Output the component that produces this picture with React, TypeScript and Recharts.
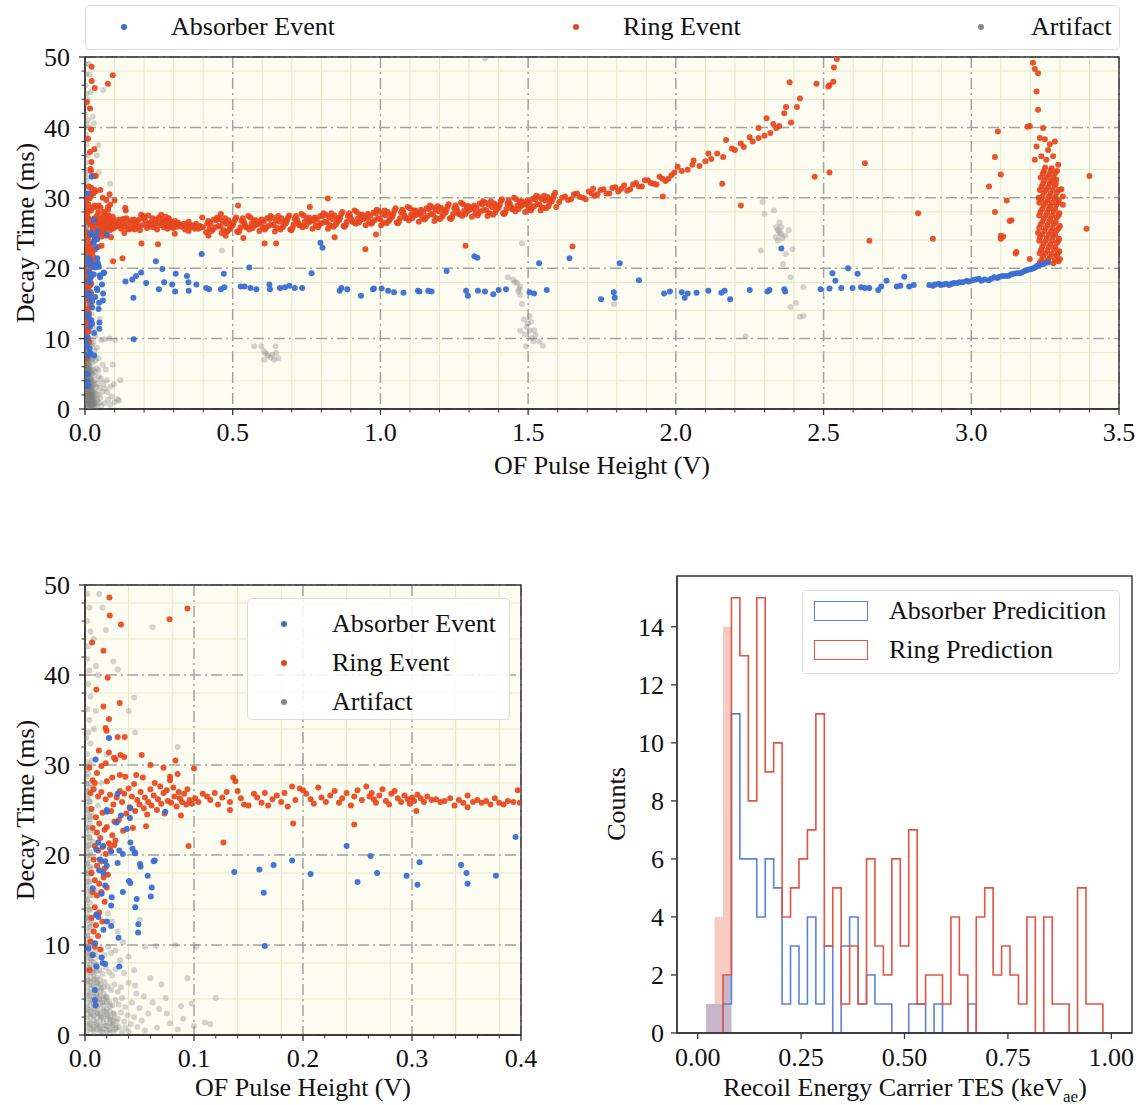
import React from 'react';
import {
  ScatterChart, Scatter, XAxis, YAxis, CartesianGrid, ReferenceArea, ReferenceLine, Legend, Label,
  ComposedChart, Line, Area,
} from 'recharts';

const SERIF = "'Liberation Serif', 'Times New Roman', Times, serif";
const BLUE = '#3c6ed2';
const RED = '#e6461e';
const GRAY = '#7c7c7c';
const BG = '#fcfcf0';
const MINOR = '#e4e7c8';
const MAJOR = '#a3a3a3';
const INK = '#111';
const HIST_BLUE = '#5a82dc';
const HIST_RED = '#e15541';

type Pt = [number, number];

// ---- scatter data: OF pulse height (V), decay time (ms) ----
const absorberLow: Pt[] = [
  [0.0097, 30.6], [0.022, 33.0], [0.02, 24.8], [0.0299, 26.8], [0.0737, 24.8], [0.0412, 24.1], [0.0383, 22.9],
  [0.033, 24.4], [0.029, 23.6], [0.0416, 21.4], [0.0435, 20.7], [0.0455, 20.3], [0.0315, 20.5], [0.0347, 20.1],
  [0.0136, 19.5], [0.0185, 19.3], [0.02, 18.8], [0.0104, 20.6], [0.024, 20.4], [0.0299, 19.1], [0.051, 18.7],
  [0.063, 19.3], [0.0575, 17.7], [0.0416, 16.9], [0.0403, 17.1], [0.013, 18.3], [0.0169, 18.0], [0.0185, 16.6],
  [0.0071, 16.3], [0.0153, 15.7], [0.0347, 15.9], [0.0604, 15.4], [0.0461, 14.2], [0.024, 14.4], [0.0104, 13.4],
  [0.0123, 13.1], [0.0201, 12.6], [0.024, 12.1], [0.0169, 11.7], [0.0308, 10.8], [0.0487, 11.4], [0.0071, 8.9],
  [0.0104, 7.6], [0.0162, 8.0], [0.0185, 7.9], [0.0315, 7.6], [0.0091, 5.0], [0.0097, 3.3], [0.0032, 9.6],
  [0.0199, 25.0], [0.0415, 25.2], [0.0122, 21.4], [0.0168, 21.0], [0.046, 20.2], [0.064, 19.4], [0.0505, 19.0],
  [0.0612, 16.4], [0.0245, 15.3], [0.0474, 15.1], [0.0107, 13.3], [0.0489, 12.3], [0.0153, 8.6], [0.0092, 10.2],
  [0.0092, 3.9],
  [0.137, 18.1], [0.16, 18.4], [0.164, 15.8], [0.173, 18.9], [0.19, 19.4], [0.207, 17.9], [0.165, 9.9],
  [0.24, 21.0], [0.25, 17.0], [0.262, 19.9], [0.268, 18.0], [0.295, 17.7], [0.305, 16.7], [0.307, 19.2],
  [0.345, 18.9], [0.35, 18.0], [0.351, 16.8], [0.377, 17.7], [0.395, 22.0],
];

const absorberHigh: Pt[] = [
  [0.41, 17.2], [0.42, 17.0], [0.47, 19.2], [0.472, 17.3], [0.46, 17.0], [0.527, 17.4], [0.54, 17.4], [0.556, 20.1],
  [0.56, 17.2], [0.58, 17.0], [0.624, 17.7], [0.626, 17.0], [0.66, 17.2], [0.677, 17.3], [0.692, 17.5], [0.71, 17.2],
  [0.735, 17.2], [0.767, 19.3], [0.797, 23.6], [0.804, 22.9], [0.862, 16.8], [0.868, 17.2], [0.888, 17.0],
  [0.934, 16.1], [0.975, 17.0], [0.978, 17.1], [1.004, 17.1], [1.026, 16.8], [1.046, 16.6], [1.078, 16.5],
  [1.127, 16.8], [1.132, 16.7], [1.162, 16.8], [1.173, 16.7], [1.224, 19.6], [1.29, 16.8], [1.296, 16.1],
  [1.318, 21.7], [1.328, 21.5], [1.33, 16.8], [1.354, 16.7], [1.382, 16.3], [1.4, 16.9], [1.425, 17.0],
  [1.505, 16.6], [1.52, 16.4], [1.537, 20.7], [1.563, 16.9], [1.64, 21.4], [1.81, 20.7], [1.747, 15.6],
  [1.79, 16.6], [1.793, 15.8], [1.875, 18.3], [1.96, 16.4], [1.98, 16.7], [2.02, 16.6], [2.03, 15.8], [2.04, 16.4],
  [2.07, 16.5], [2.11, 16.8], [2.154, 16.5], [2.165, 16.8], [2.184, 15.6], [2.25, 16.9], [2.31, 16.7], [2.317, 16.9],
  [2.357, 22.8], [2.367, 17.0], [2.37, 16.7], [2.49, 17.0], [2.52, 17.1], [2.53, 19.3], [2.54, 18.2], [2.56, 17.2],
  [2.583, 20.0], [2.598, 17.2], [2.615, 19.2], [2.627, 17.3], [2.64, 17.2], [2.655, 17.2], [2.685, 16.9],
  [2.695, 17.4], [2.713, 18.2], [2.748, 17.4], [2.76, 17.5], [2.773, 18.8], [2.79, 17.4], [2.805, 17.6],
  [2.858, 17.6], [2.877, 17.7], [2.896, 17.6], [2.915, 17.8], [2.934, 17.8], [2.952, 17.9], [2.971, 18.0],
  [2.984, 18.2], [3.015, 18.4], [3.034, 18.2], [3.059, 18.3], [3.078, 18.7], [3.096, 18.8], [3.115, 18.9],
  [3.134, 19.1], [3.153, 19.3], [3.172, 19.4], [3.187, 19.7], [3.203, 19.9], [3.216, 20.1], [3.228, 20.4],
  [2.87, 17.5], [2.89, 17.8], [2.905, 17.7], [2.925, 17.6], [2.94, 17.9], [2.96, 18.0], [2.99, 18.1], [3.005, 18.3],
  [3.025, 18.5], [3.045, 18.4], [3.068, 18.5], [3.088, 18.6], [3.105, 18.9], [3.125, 18.9], [3.143, 19.2],
  [3.163, 19.3], [3.18, 19.6], [3.195, 19.8], [3.21, 20.0], [3.222, 20.3], [3.235, 20.5], [3.245, 20.6], [3.26, 20.8],
];

const ringLow: Pt[] = [
  // band 0.1 - 0.4 V
  [0.101, 26.3], [0.104, 25.9], [0.108, 26.8], [0.112, 26.5], [0.115, 26.1], [0.119, 26.9], [0.122, 25.6],
  [0.126, 26.4], [0.13, 27.0], [0.133, 25.9], [0.136, 28.6], [0.138, 28.2], [0.14, 27.1], [0.143, 26.3],
  [0.146, 25.6], [0.15, 25.5], [0.155, 26.8], [0.158, 26.4], [0.162, 25.8], [0.165, 26.9], [0.168, 25.5],
  [0.172, 26.2], [0.176, 26.6], [0.18, 25.9], [0.183, 26.9], [0.186, 25.4], [0.19, 27.6], [0.193, 26.1],
  [0.197, 27.4], [0.2, 27.2], [0.203, 26.8], [0.207, 26.2], [0.21, 25.7], [0.214, 27.5], [0.217, 26.4],
  [0.221, 25.9], [0.225, 26.6], [0.229, 27.1], [0.233, 25.8], [0.236, 26.3], [0.24, 26.9], [0.244, 25.5],
  [0.247, 26.5], [0.25, 27.2], [0.254, 26.1], [0.258, 27.6], [0.261, 26.5], [0.263, 26.9], [0.265, 26.2],
  [0.267, 25.8], [0.27, 26.6], [0.273, 27.3], [0.276, 26.0], [0.279, 25.6], [0.281, 26.8], [0.284, 27.1],
  [0.287, 26.3], [0.29, 25.9], [0.293, 26.6], [0.296, 26.2], [0.298, 25.7], [0.3, 26.4], [0.302, 26.0],
  [0.305, 26.7], [0.308, 26.3], [0.311, 25.9], [0.314, 26.5], [0.318, 26.1], [0.322, 26.2], [0.326, 25.9],
  [0.33, 26.0], [0.335, 26.3], [0.339, 25.5], [0.343, 26.1], [0.347, 25.8], [0.351, 26.6], [0.351, 25.3],
  [0.356, 25.9], [0.36, 26.1], [0.364, 25.8], [0.368, 26.0], [0.372, 25.6], [0.376, 26.3], [0.38, 25.8],
  [0.384, 25.6], [0.388, 26.0], [0.393, 25.9], [0.397, 27.2], [0.399, 25.8],
  [0.191, 23.5], [0.247, 23.4], [0.127, 21.4], [0.095, 21.0], [0.088, 24.4], [0.304, 24.9], [0.1, 29.6], [0.133, 25.0],
  // band 0.03 - 0.1 V
  [0.032, 27.1], [0.034, 25.9], [0.036, 26.8], [0.038, 24.6], [0.04, 27.4], [0.041, 25.3], [0.043, 26.5],
  [0.045, 27.9], [0.046, 24.9], [0.048, 26.1], [0.05, 25.6], [0.051, 27.0], [0.053, 28.6], [0.054, 25.2],
  [0.055, 26.4], [0.057, 24.5], [0.058, 25.9], [0.06, 27.3], [0.061, 25.5], [0.063, 26.6], [0.064, 28.0],
  [0.066, 25.0], [0.067, 26.2], [0.069, 27.6], [0.07, 25.7], [0.072, 26.9], [0.073, 24.6], [0.075, 27.2],
  [0.076, 26.0], [0.078, 28.3], [0.079, 25.8], [0.081, 27.5], [0.082, 26.5], [0.084, 25.4], [0.086, 27.0],
  [0.087, 26.3], [0.089, 25.9], [0.091, 26.8], [0.093, 25.6], [0.094, 27.3], [0.096, 26.1], [0.098, 25.7],
  [0.06, 30.0], [0.072, 29.7], [0.083, 30.5], [0.052, 31.1], [0.078, 28.7], [0.085, 29.0], [0.047, 28.9],
  [0.056, 23.2], [0.044, 23.0], [0.035, 22.7], [0.031, 23.9], [0.036, 30.9], [0.03, 33.1],
  // strip near zero
  [0.005, 26.9], [0.008, 27.3], [0.012, 26.5], [0.015, 27.0], [0.019, 26.2], [0.023, 26.7], [0.026, 25.6],
  [0.029, 26.4], [0.006, 25.1], [0.01, 24.2], [0.013, 23.5], [0.016, 24.7], [0.02, 23.1], [0.024, 24.9],
  [0.027, 23.7], [0.007, 23.0], [0.011, 22.5], [0.014, 21.9], [0.018, 22.8], [0.022, 21.3], [0.025, 22.2],
  [0.028, 21.6], [0.009, 21.0], [0.012, 20.5], [0.016, 20.9], [0.019, 20.1], [0.023, 20.7], [0.027, 21.1],
  [0.008, 19.5], [0.011, 18.8], [0.015, 19.3], [0.018, 18.5], [0.021, 17.8], [0.006, 18.0], [0.009, 17.2],
  [0.013, 16.8], [0.017, 17.5], [0.02, 16.4], [0.007, 15.9], [0.011, 15.5], [0.015, 15.9], [0.018, 14.8],
  [0.009, 14.2], [0.013, 13.6], [0.006, 13.0], [0.01, 12.2], [0.016, 12.6], [0.008, 11.5], [0.012, 11.0],
  [0.005, 10.4], [0.009, 9.8], [0.014, 9.5], [0.007, 8.9], [0.004, 7.2], [0.007, 28.3], [0.011, 29.1],
  [0.004, 29.7], [0.015, 29.9], [0.009, 28.0], [0.02, 28.2], [0.025, 28.6], [0.032, 28.9], [0.037, 28.7],
  [0.019, 30.2], [0.028, 30.6],
  // upper scatter
  [0.0224, 48.6], [0.0227, 46.6], [0.033, 45.6], [0.0776, 46.2], [0.094, 47.4], [0.0065, 43.6], [0.0169, 42.7],
  [0.0208, 39.7], [0.0104, 38.4], [0.0318, 36.9], [0.0169, 36.5], [0.022, 35.1], [0.0188, 34.1], [0.0198, 33.8],
  [0.0364, 33.1], [0.0127, 31.6], [0.022, 31.4], [0.0325, 31.1], [0.0266, 30.8],
];

const ringBand: Pt[] = [
  [0.41, 25.1], [0.425, 26.4], [0.44, 25.8], [0.455, 27.0], [0.47, 25.4], [0.485, 26.8], [0.5, 26.1], [0.515, 25.2],
  [0.53, 26.7], [0.545, 25.8], [0.56, 27.2], [0.575, 26.1], [0.59, 25.3], [0.605, 26.6], [0.62, 26.0], [0.635, 27.2],
  [0.65, 25.7], [0.665, 27.1], [0.68, 26.4], [0.695, 25.5], [0.71, 27.0], [0.725, 26.1], [0.74, 27.5], [0.755, 26.5],
  [0.77, 25.6], [0.785, 26.9], [0.8, 26.4], [0.815, 27.6], [0.83, 26.1], [0.845, 27.5], [0.86, 26.8], [0.875, 26.0],
  [0.89, 27.4], [0.905, 26.6], [0.92, 28.0], [0.935, 26.9], [0.95, 26.1], [0.965, 27.4], [0.98, 26.8], [0.995, 28.1],
  [1.01, 26.5], [1.025, 28.0], [1.04, 27.3], [1.055, 26.5], [1.07, 27.9], [1.085, 27.1], [1.1, 28.5], [1.115, 27.5],
  [1.13, 26.6], [1.145, 28.0], [1.16, 27.4], [1.175, 28.7], [1.19, 27.1], [1.205, 28.6], [1.22, 27.9], [1.235, 27.1],
  [1.25, 28.5], [1.265, 27.7], [1.28, 29.1], [1.295, 28.1], [1.31, 27.3], [1.325, 28.6], [1.34, 28.1], [1.355, 29.3],
  [1.37, 27.8], [1.385, 29.2], [1.4, 28.6], [1.415, 27.8], [1.43, 29.2], [1.445, 28.4], [1.46, 29.8], [1.475, 28.8],
  [1.49, 28.0], [1.505, 29.3], [1.52, 28.8], [1.535, 30.1], [1.55, 28.6], [1.565, 30.1], [1.58, 29.5], [1.595, 28.7],
  [1.615, 30.0], [1.635, 29.7], [1.655, 30.5], [1.675, 30.1], [1.695, 29.8], [1.715, 30.6], [1.735, 30.5],
  [1.755, 31.2], [1.775, 30.6], [1.795, 31.5], [1.815, 31.3], [1.835, 31.0], [1.855, 31.9], [1.875, 31.6],
  [1.895, 32.5], [1.915, 32.1], [1.935, 31.9], [1.955, 32.7], [1.975, 32.7], [1.995, 33.6],
  [0.4175, 26.7], [0.4325, 25.5], [0.4475, 27.2], [0.4625, 25.0], [0.4775, 26.3], [0.4925, 25.8], [0.5075, 26.9],
  [0.5225, 25.3], [0.5375, 26.6], [0.5525, 27.4], [0.5675, 25.7], [0.5825, 26.2], [0.5975, 26.9], [0.6125, 25.7],
  [0.6275, 27.4], [0.6425, 25.2], [0.6575, 26.6], [0.6725, 26.1], [0.6875, 27.2], [0.7025, 25.7], [0.7175, 26.9],
  [0.7325, 27.7], [0.7475, 26.0], [0.7625, 26.6], [0.7775, 27.2], [0.7925, 26.1], [0.8075, 27.8], [0.8225, 25.6],
  [0.8375, 27.0], [0.8525, 26.5], [0.8675, 27.7], [0.8825, 26.1], [0.8975, 27.4], [0.9125, 28.2], [0.9275, 26.5],
  [0.9425, 27.0], [0.9575, 27.7], [0.9725, 26.5], [0.9875, 28.3], [1.0025, 26.1], [1.0175, 27.5], [1.0325, 27.0],
  [1.0475, 28.2], [1.0625, 26.6], [1.0775, 27.9], [1.0925, 28.7], [1.1075, 27.1], [1.1225, 27.6], [1.1375, 28.3],
  [1.1525, 27.1], [1.1675, 28.9], [1.1825, 26.7], [1.1975, 28.1], [1.2125, 27.6], [1.2275, 28.8], [1.2425, 27.2],
  [1.2575, 28.5], [1.2725, 29.3], [1.2875, 27.7], [1.3025, 28.3], [1.3175, 28.9], [1.3325, 27.8], [1.3475, 29.5],
  [1.3625, 27.4], [1.3775, 28.7], [1.3925, 28.3], [1.4075, 29.5], [1.4225, 27.9], [1.4375, 29.2], [1.4525, 30.0],
  [1.4675, 28.4], [1.4825, 29.0], [1.4975, 29.6], [1.5125, 28.5], [1.5275, 30.3], [1.5425, 28.2], [1.5575, 29.6],
  [1.5725, 29.2], [1.5875, 30.4],
  [0.4138, 26.3], [0.4288, 25.3], [0.4438, 26.8], [0.4588, 25.9], [0.4738, 27.1], [0.4888, 25.5], [0.5038, 26.5],
  [0.5188, 25.1], [0.5338, 27.1], [0.5488, 25.8], [0.5638, 26.3], [0.5788, 26.8], [0.5938, 26.5], [0.6088, 25.5],
  [0.6238, 27.0], [0.6388, 26.1], [0.6538, 27.4], [0.6688, 25.8], [0.6838, 26.8], [0.6988, 25.4], [0.7138, 27.4],
  [0.7288, 26.1], [0.7438, 26.6], [0.7588, 27.2], [0.7738, 26.8], [0.7888, 25.8], [0.8038, 27.4], [0.8188, 26.5],
  [0.8338, 27.8], [0.8488, 26.2], [0.8638, 27.2], [0.8788, 25.9], [0.8938, 27.8], [0.9088, 26.6], [0.9238, 27.1],
  [0.9388, 27.6], [0.9538, 27.3], [0.9688, 26.3], [0.9838, 27.8], [0.9988, 27.0], [1.0138, 28.2], [1.0288, 26.7],
  [1.0438, 27.7], [1.0588, 26.4], [1.0738, 28.3], [1.0888, 27.1], [1.1038, 27.6], [1.1188, 28.2], [1.1338, 27.8],
  [1.1488, 26.9], [1.1638, 28.4], [1.1788, 27.6], [1.1938, 28.8], [1.2088, 27.3], [1.2238, 28.3], [1.2388, 27.0],
  [1.2538, 28.9], [1.2688, 27.7], [1.2838, 28.2], [1.2988, 28.8], [1.3138, 28.5], [1.3288, 27.5], [1.3438, 29.1],
  [1.3588, 28.2], [1.3738, 29.5], [1.3888, 27.9], [1.4038, 29.0], [1.4188, 27.7], [1.4338, 29.6], [1.4488, 28.4],
  [1.4638, 28.9], [1.4788, 29.5], [1.4938, 29.2], [1.5088, 28.2], [1.5238, 29.8], [1.5388, 29.0], [1.5538, 30.3],
  [1.5688, 28.8], [1.5838, 29.9],
  [0.4213, 25.6], [0.4363, 26.9], [0.4513, 26.0], [0.4663, 26.6], [0.4813, 25.2], [0.4963, 26.4], [0.5113, 27.2],
  [0.5263, 25.8], [0.5413, 26.2], [0.5563, 25.5], [0.5713, 26.8], [0.5863, 26.4], [0.6013, 25.8], [0.6163, 27.1],
  [0.6313, 26.2], [0.6463, 26.8], [0.6613, 25.5], [0.6763, 26.7], [0.6913, 27.5], [0.7063, 26.2], [0.7213, 26.5],
  [0.7363, 25.8], [0.7513, 27.1], [0.7663, 26.8], [0.7813, 26.1], [0.7963, 27.4], [0.8113, 26.6], [0.8263, 27.2],
  [0.8413, 25.9], [0.8563, 27.1], [0.8713, 28.0], [0.8863, 26.6], [0.9013, 27.0], [0.9163, 26.3], [0.9313, 27.6],
  [0.9463, 27.2], [0.9613, 26.6], [0.9763, 27.9], [0.9913, 27.1], [1.0063, 27.7], [1.0213, 26.4], [1.0363, 27.6],
  [1.0513, 28.5], [1.0663, 27.1], [1.0813, 27.5], [1.0963, 26.8], [1.1113, 28.2], [1.1263, 27.8], [1.1413, 27.2],
  [1.1563, 28.5], [1.1713, 27.7], [1.1863, 28.3], [1.2013, 27.0], [1.2163, 28.2], [1.2313, 29.1], [1.2463, 27.7],
  [1.2613, 28.1], [1.2763, 27.4], [1.2913, 28.8], [1.3063, 28.5], [1.3213, 27.8], [1.3363, 29.2], [1.3513, 28.3],
  [1.3663, 29.0], [1.3813, 27.6], [1.3963, 28.9], [1.4113, 29.8], [1.4263, 28.4], [1.4413, 28.8], [1.4563, 28.1],
  [1.4713, 29.5], [1.4863, 29.2], [1.5013, 28.5], [1.5163, 29.9], [1.5313, 29.1], [1.5463, 29.8], [1.5613, 28.5],
  [1.5763, 29.8], [1.5913, 30.7],
  [1.605, 29.4], [1.625, 30.2], [1.645, 29.8], [1.665, 30.6], [1.685, 30.0], [1.705, 30.9], [1.725, 30.3],
  [1.745, 31.1], [1.765, 30.6], [1.785, 31.4], [1.805, 30.9], [1.825, 31.8], [1.845, 31.2], [1.865, 32.1],
  [1.885, 31.6], [1.905, 32.5], [1.925, 32.0], [1.945, 33.0], [1.965, 32.4], [1.985, 33.2],
];

const ringCurve: Pt[] = [
  [2.006, 34.4], [2.02, 33.8], [2.04, 34.0], [2.056, 34.7], [2.06, 35.3], [2.08, 34.5], [2.1, 35.2], [2.11, 36.3],
  [2.12, 35.5], [2.14, 36.3], [2.16, 35.8], [2.17, 38.2], [2.19, 37.0], [2.2, 36.8], [2.22, 37.7], [2.23, 37.2],
  [2.25, 38.6], [2.26, 38.0], [2.28, 38.5], [2.28, 39.9], [2.3, 38.8], [2.307, 41.3], [2.32, 39.2], [2.33, 40.5],
  [2.34, 39.9], [2.35, 40.2], [2.367, 42.0], [2.373, 42.9], [2.385, 46.4], [2.39, 40.7], [2.41, 42.9], [2.42, 44.1],
  [2.476, 46.2], [2.516, 45.8], [2.52, 46.0], [2.533, 46.5], [2.535, 48.5], [2.545, 49.7],
];

const ringOutliers: Pt[] = [
  [0.418, 24.6], [0.46, 27.7], [0.476, 24.6], [0.536, 24.3], [0.518, 28.9], [0.608, 23.5], [0.647, 23.5],
  [0.761, 28.7], [0.822, 29.9], [0.845, 24.4], [0.949, 22.7], [0.985, 24.8], [1.288, 23.2], [1.65, 23.1],
  [1.72, 31.3], [2.157, 32.0], [2.22, 28.9], [1.956, 30.2], [2.47, 33.0], [2.52, 33.6], [2.64, 34.9],
  [2.655, 23.9], [2.82, 27.8], [2.87, 24.2], [3.09, 39.4], [3.08, 35.8], [3.1, 33.3], [3.06, 31.6], [3.12, 29.6],
  [3.08, 28.0], [3.13, 26.7], [3.1, 24.6], [3.1, 24.2], [3.15, 22.1], [3.19, 40.1], [3.31, 30.2], [3.4, 33.1],
  [3.39, 25.6], [3.136, 26.8], [3.108, 24.5], [3.153, 22.3], [3.198, 21.3],
];

const ringCluster: Pt[] = [
  [3.232, 20.8], [3.255, 20.9], [3.278, 20.7], [3.295, 21.0], [3.243, 21.7], [3.266, 21.6], [3.288, 21.8],
  [3.236, 22.6], [3.258, 22.5], [3.28, 22.7], [3.298, 22.4], [3.245, 23.5], [3.268, 23.4], [3.29, 23.6],
  [3.233, 24.4], [3.256, 24.3], [3.277, 24.5], [3.297, 24.2], [3.247, 25.3], [3.27, 25.2], [3.29, 25.4],
  [3.235, 26.2], [3.258, 26.1], [3.28, 26.3], [3.3, 26.0], [3.246, 27.1], [3.268, 27.0], [3.289, 27.2],
  [3.234, 28.0], [3.257, 27.9], [3.279, 28.1], [3.298, 27.8], [3.245, 28.9], [3.267, 28.8], [3.288, 29.0],
  [3.236, 29.8], [3.259, 29.7], [3.281, 29.9], [3.296, 29.6], [3.246, 30.7], [3.268, 30.6], [3.29, 30.8],
  [3.238, 31.6], [3.26, 31.5], [3.282, 31.7], [3.248, 32.5], [3.27, 32.4], [3.288, 32.6], [3.242, 33.4],
  [3.264, 33.3], [3.284, 33.5], [3.25, 34.3], [3.272, 34.2], [3.305, 31.2], [3.31, 29.0], [3.228, 30.0],
  [3.226, 25.0],
  [3.238, 21.2], [3.26, 21.2], [3.283, 21.2], [3.3, 21.3], [3.231, 22.1], [3.25, 22.1], [3.272, 22.0],
  [3.293, 22.1], [3.24, 23.0], [3.262, 23.0], [3.285, 23.0], [3.23, 23.9], [3.252, 23.9], [3.273, 23.9],
  [3.295, 23.9], [3.24, 24.8], [3.262, 24.8], [3.284, 24.8], [3.23, 25.7], [3.252, 25.7], [3.274, 25.7],
  [3.296, 25.7], [3.241, 26.6], [3.263, 26.6], [3.286, 26.6], [3.23, 27.5], [3.252, 27.5], [3.273, 27.5],
  [3.295, 27.5], [3.24, 28.4], [3.262, 28.4], [3.284, 28.4], [3.23, 29.3], [3.251, 29.3], [3.273, 29.3],
  [3.294, 29.3], [3.241, 30.2], [3.263, 30.2], [3.285, 30.2], [3.232, 31.1], [3.253, 31.1], [3.275, 31.1],
  [3.296, 31.1], [3.243, 32.0], [3.265, 32.0], [3.286, 32.0], [3.235, 32.9], [3.256, 32.9], [3.277, 32.9],
  [3.246, 33.8], [3.268, 33.8], [3.29, 33.8],
  [3.221, 37.3], [3.232, 38.5], [3.249, 38.3], [3.266, 37.6], [3.283, 38.0], [3.26, 36.8], [3.215, 35.4],
  [3.237, 35.9], [3.254, 35.4], [3.277, 35.9], [3.294, 34.7], [3.243, 39.9],
  [3.209, 49.2], [3.215, 48.3], [3.226, 47.7], [3.221, 45.1], [3.226, 42.5], [3.198, 40.2],
];

const artifactLow: Pt[] = [
  [0.002, 49.0], [0.004, 47.5], [0.002, 46.0], [0.005, 44.8], [0.003, 43.2], [0.002, 41.8], [0.004, 40.5],
  [0.003, 39.0], [0.005, 37.6], [0.002, 36.2], [0.004, 35.0], [0.003, 33.6], [0.005, 32.4], [0.002, 31.2],
  [0.004, 30.0], [0.003, 29.0], [0.005, 28.0], [0.002, 27.0], [0.004, 26.0], [0.003, 25.0], [0.005, 24.0],
  [0.002, 23.0], [0.004, 22.0], [0.003, 21.0], [0.005, 20.0], [0.002, 19.0], [0.004, 18.0], [0.003, 17.0],
  [0.005, 16.0], [0.002, 15.0], [0.004, 14.0], [0.003, 13.0], [0.005, 12.0], [0.002, 11.0], [0.004, 10.0],
  [0.006, 30.5], [0.007, 27.5], [0.006, 24.5], [0.007, 21.5], [0.006, 18.5], [0.007, 15.5], [0.006, 12.5],
  [0.001, 33.0], [0.001, 28.0], [0.001, 23.0], [0.001, 18.0], [0.001, 13.0], [0.008, 44.0], [0.01, 41.0],
  [0.013, 49.0], [0.016, 47.5], [0.019, 45.0], [0.01, 36.0], [0.008, 34.0], [0.012, 40.0], [0.03, 40.6],
  [0.045, 37.5], [0.04, 36.0], [0.062, 45.3], [0.046, 33.6], [0.085, 32.0], [0.026, 41.5],
  [0.003, 9.0], [0.006, 8.4], [0.009, 9.2], [0.012, 8.7], [0.015, 9.5], [0.018, 8.9], [0.021, 9.8], [0.024, 9.1],
  [0.004, 7.5], [0.007, 7.0], [0.01, 7.8], [0.013, 7.2], [0.016, 6.8], [0.019, 7.5], [0.022, 7.0], [0.025, 6.6],
  [0.028, 7.3], [0.003, 6.0], [0.006, 5.5], [0.009, 6.2], [0.012, 5.7], [0.015, 5.2], [0.018, 5.9], [0.021, 5.4],
  [0.024, 5.0], [0.027, 5.6], [0.03, 4.8], [0.033, 5.3], [0.004, 4.4], [0.007, 3.9], [0.01, 4.5], [0.013, 4.0],
  [0.016, 3.6], [0.019, 4.2], [0.022, 3.7], [0.025, 3.3], [0.028, 3.9], [0.031, 3.4], [0.034, 4.1], [0.037, 3.1],
  [0.003, 2.8], [0.006, 2.3], [0.009, 2.9], [0.012, 2.4], [0.015, 2.0], [0.018, 2.6], [0.021, 2.1], [0.024, 1.7],
  [0.027, 2.3], [0.03, 1.8], [0.033, 2.5], [0.036, 1.5], [0.039, 2.2], [0.042, 1.2], [0.045, 2.0], [0.004, 1.2],
  [0.007, 0.7], [0.01, 1.3], [0.013, 0.8], [0.016, 0.4], [0.019, 1.0], [0.022, 0.5], [0.025, 1.1], [0.028, 0.6],
  [0.031, 0.9], [0.034, 0.3], [0.037, 0.8], [0.04, 0.4], [0.048, 0.9], [0.052, 1.6], [0.055, 0.5], [0.058, 2.4],
  [0.05, 3.0], [0.043, 3.6], [0.047, 4.6], [0.04, 5.8], [0.036, 6.9], [0.032, 8.3], [0.028, 9.4], [0.03, 11.5],
  [0.025, 12.6], [0.021, 13.5], [0.035, 10.3], [0.04, 8.7], [0.055, 9.8], [0.062, 3.6], [0.066, 0.8], [0.068, 2.9],
  [0.074, 4.1], [0.078, 1.3], [0.085, 0.6], [0.088, 3.2], [0.09, 1.8], [0.098, 3.5], [0.1, 1.0], [0.11, 1.4],
  [0.115, 1.2], [0.12, 4.1], [0.07, 5.6], [0.06, 6.3], [0.045, 7.2], [0.05, 12.8], [0.065, 9.9], [0.094, 6.3],
  [0.01, 16.0], [0.014, 19.5], [0.009, 22.5], [0.012, 25.5], [0.015, 28.0], [0.02, 31.2], [0.083, 10.0],
  [0.102, 9.8], [0.075, 2.4], [0.054, 4.3], [0.046, 5.5],
];

// the dense grey mass hugging the origin
const artifactDense: Pt[] = [
  [0.002, 0.4], [0.002, 1.0], [0.002, 1.7], [0.002, 2.3], [0.002, 3.0], [0.002, 3.6], [0.002, 4.3], [0.002, 4.9],
  [0.002, 5.6], [0.002, 6.2], [0.002, 6.9], [0.002, 7.5], [0.002, 8.2], [0.002, 8.8], [0.002, 9.5],
  [0.005, 0.7], [0.005, 1.3], [0.005, 2.0], [0.005, 2.6], [0.005, 3.3], [0.005, 3.9], [0.005, 4.6], [0.005, 5.2],
  [0.005, 5.9], [0.005, 6.5], [0.005, 7.2], [0.005, 7.8], [0.005, 8.5], [0.005, 9.1],
  [0.008, 0.3], [0.008, 0.9], [0.008, 1.6], [0.008, 2.2], [0.008, 2.9], [0.008, 3.5], [0.008, 4.2], [0.008, 4.8],
  [0.008, 5.5], [0.008, 6.1], [0.008, 6.8], [0.008, 7.4], [0.008, 8.1],
  [0.011, 0.6], [0.011, 1.2], [0.011, 1.9], [0.011, 2.5], [0.011, 3.2], [0.011, 3.8], [0.011, 4.5], [0.011, 5.1],
  [0.011, 5.8], [0.011, 6.4], [0.011, 7.1], [0.011, 7.7],
  [0.014, 0.4], [0.014, 1.0], [0.014, 1.7], [0.014, 2.3], [0.014, 3.0], [0.014, 3.6], [0.014, 4.3], [0.014, 4.9],
  [0.014, 5.6], [0.014, 6.2],
  [0.017, 0.7], [0.017, 1.4], [0.017, 2.0], [0.017, 2.7], [0.017, 3.3], [0.017, 4.0], [0.017, 4.6], [0.017, 5.3],
  [0.02, 0.3], [0.02, 1.0], [0.02, 1.6], [0.02, 2.3], [0.02, 2.9], [0.02, 3.6], [0.02, 4.2],
  [0.023, 0.6], [0.023, 1.3], [0.023, 1.9], [0.023, 2.6], [0.023, 3.2], [0.026, 0.4], [0.026, 1.1], [0.026, 1.7],
  [0.026, 2.4], [0.029, 0.8], [0.029, 1.5],
  [0.0015, 10.3], [0.0015, 11.1], [0.0015, 11.9], [0.0015, 12.7], [0.0015, 13.5], [0.0015, 14.3], [0.0015, 15.1],
  [0.0015, 15.9], [0.0015, 16.7], [0.0015, 17.5], [0.0015, 18.3], [0.0015, 19.1], [0.0015, 19.9], [0.0015, 20.7],
  [0.0015, 21.5], [0.0015, 22.3], [0.0015, 23.1], [0.0015, 23.9], [0.0015, 24.7], [0.0015, 25.5], [0.0015, 26.3],
  [0.0015, 27.1], [0.0015, 27.9], [0.0015, 28.7], [0.0015, 29.5], [0.0015, 30.3],
  [0.0045, 10.7], [0.0045, 11.5], [0.0045, 12.3], [0.0045, 13.1], [0.0045, 13.9], [0.0045, 14.7], [0.0045, 15.5],
  [0.0045, 16.3], [0.0045, 17.1], [0.0045, 17.9], [0.0045, 18.7], [0.0045, 19.5], [0.0045, 20.3], [0.0045, 21.1],
  [0.0045, 21.9], [0.0045, 22.7], [0.0045, 23.5], [0.0045, 24.3], [0.0045, 25.1], [0.0045, 25.9], [0.0045, 26.7],
  [0.0045, 27.5],
];

const artifactHigh: Pt[] = [
  [0.573, 8.9], [0.606, 8.2], [0.619, 7.6], [0.634, 7.7], [0.647, 8.0], [0.655, 7.2], [0.606, 7.0], [0.597, 8.9],
  [0.645, 8.9], [0.628, 7.3], [0.64, 7.0], [0.612, 7.9], [0.463, 22.5],
  [1.431, 18.7], [1.449, 18.4], [1.462, 17.9], [1.473, 17.4], [1.466, 16.7], [1.473, 16.2], [1.479, 14.9],
  [1.486, 12.7], [1.499, 12.1], [1.505, 11.1], [1.512, 10.1], [1.518, 9.6], [1.525, 10.5], [1.538, 9.6],
  [1.55, 9.0], [1.473, 11.1], [1.492, 8.9], [1.505, 13.2], [1.479, 23.5], [1.354, 49.8], [1.495, 11.6],
  [1.51, 12.4], [1.488, 10.6], [1.52, 11.2], [1.455, 18.0], [1.47, 17.0],
  [2.294, 29.4], [2.332, 28.2], [2.351, 26.5], [2.345, 25.4], [2.355, 24.9], [2.37, 24.6], [2.338, 24.4],
  [2.382, 25.4], [2.395, 22.7], [2.372, 22.0], [2.288, 22.5], [2.363, 20.6], [2.388, 18.7], [2.407, 15.1],
  [2.388, 14.5], [2.432, 13.2], [2.42, 13.1], [2.432, 17.3], [2.236, 10.3], [1.79, 14.9], [2.3, 27.7],
  [2.357, 25.8], [2.345, 23.9], [2.35, 25.1], [2.36, 24.3], [2.34, 25.8],
];

// ---- histogram data: recoil energy (keV_ae), 49 bins on [0, 1] ----
const histEdges = [
  0, 0.020408, 0.040816, 0.061224, 0.081633, 0.102041, 0.122449, 0.142857, 0.163265, 0.183673,
  0.204082, 0.22449, 0.244898, 0.265306, 0.285714, 0.306122, 0.326531, 0.346939, 0.367347, 0.387755,
  0.408163, 0.428571, 0.44898, 0.469388, 0.489796, 0.510204, 0.530612, 0.55102, 0.571429, 0.591837,
  0.612245, 0.632653, 0.653061, 0.673469, 0.693878, 0.714286, 0.734694, 0.755102, 0.77551, 0.795918,
  0.816327, 0.836735, 0.857143, 0.877551, 0.897959, 0.918367, 0.938776, 0.959184, 0.979592, 1.0,
];
const ringCounts = [
  0, 0, 0, 2, 15, 13, 8, 15, 9, 10, 4, 5, 6, 7, 11, 3, 5, 1, 3, 1, 6, 3, 2, 6, 3,
  7, 1, 2, 2, 1, 4, 2, 0, 4, 5, 2, 3, 2, 1, 4, 0, 4, 1, 1, 0, 5, 1, 1, 0,
];
const absorberCounts = [
  0, 0, 0, 1, 11, 6, 6, 4, 6, 5, 1, 3, 1, 4, 1, 3, 0, 3, 4, 1, 2, 1, 1, 0, 0,
  1, 1, 0, 1, 0, 0, 0, 1, 0, 0, 0, 0, 0, 0, 0, 0, 0, 0, 0, 0, 0, 0, 0, 0,
];
const ringTrueCounts = [0, 1, 4, 14];
const absorberTrueCounts = [0, 1, 1, 2];

const histTable = histEdges.map((x, i) => ({
  x,
  ring: ringCounts[i] ?? 0,
  absorber: absorberCounts[i] ?? 0,
  ringTrue: ringTrueCounts[i] ?? 0,
  absorberTrue: absorberTrueCounts[i] ?? 0,
}));

// ---- ticks ----
const topXTicks = [0, 0.5, 1, 1.5, 2, 2.5, 3, 3.5];
const topXMinor = [0.1, 0.2, 0.3, 0.4, 0.6, 0.7, 0.8, 0.9, 1.1, 1.2, 1.3, 1.4, 1.6, 1.7, 1.8, 1.9, 2.1, 2.2, 2.3, 2.4,
  2.6, 2.7, 2.8, 2.9, 3.1, 3.2, 3.3, 3.4];
const decayTicks = [0, 10, 20, 30, 40, 50];
const decayMinor = [2, 4, 6, 8, 12, 14, 16, 18, 22, 24, 26, 28, 32, 34, 36, 38, 42, 44, 46, 48];
const zoomXTicks = [0, 0.1, 0.2, 0.3, 0.4];
const zoomXMinor = [0.02, 0.04, 0.06, 0.08, 0.12, 0.14, 0.16, 0.18, 0.22, 0.24, 0.26, 0.28, 0.32, 0.34, 0.36, 0.38];
const histXTicks = [0, 0.25, 0.5, 0.75, 1];
const histYTicks = [0, 2, 4, 6, 8, 10, 12, 14];

const scatterLegend = [
  { name: 'Absorber Event', color: BLUE, opacity: 1 },
  { name: 'Ring Event', color: RED, opacity: 1 },
  { name: 'Artifact', color: GRAY, opacity: 0.9 },
];
const histLegend = [
  { name: 'Absorber Predicition', color: HIST_BLUE },
  { name: 'Ring Prediction', color: HIST_RED },
];

const toPts = (arr: Pt[]) => arr.map(([x, y]) => ({ x, y }));
const absorberAll = toPts([...absorberLow, ...absorberHigh]);
const ringAll = toPts([...ringLow, ...ringBand, ...ringCurve, ...ringOutliers, ...ringCluster]);
const artifactAll = toPts([...artifactDense, ...artifactLow, ...artifactHigh]);
const inZoom = (p: { x: number }) => p.x <= 0.4;

const dot = (color: string, r: number, opacity: number) => (p: any) => (
  <circle cx={p.cx} cy={p.cy} r={r} fill={color} fillOpacity={opacity} />
);

const tickStyle = { fontSize: 26, fontFamily: SERIF, fill: INK };
const textStyle: React.CSSProperties = { fontSize: 26, fontFamily: SERIF, fill: INK };

const legendBox: React.CSSProperties = {
  position: 'relative', boxSizing: 'border-box', border: '1px solid #dcdcdc', borderRadius: 5,
  background: 'rgba(255,255,255,0.85)', fontFamily: SERIF, fontSize: 26, color: INK,
};

function TopLegend() {
  const dotsX = [38, 490, 895];
  const textX = [85, 537, 945];
  return (
    <div style={{ ...legendBox, width: 1035, height: 45 }}>
      {scatterLegend.map((it, i) => (
        <React.Fragment key={it.name}>
          <span style={{ position: 'absolute', left: dotsX[i] - 3, top: 18, width: 6, height: 6, borderRadius: 3,
            background: it.color, opacity: it.opacity }} />
          <span style={{ position: 'absolute', left: textX[i], top: 6, lineHeight: '30px', whiteSpace: 'nowrap' }}>{it.name}</span>
        </React.Fragment>
      ))}
    </div>
  );
}

function ZoomLegend() {
  return (
    <div style={{ ...legendBox, width: 263, height: 122 }}>
      {scatterLegend.map((it, i) => (
        <React.Fragment key={it.name}>
          <span style={{ position: 'absolute', left: 33, top: 22 + i * 39, width: 6, height: 6, borderRadius: 3,
            background: it.color, opacity: it.opacity }} />
          <span style={{ position: 'absolute', left: 84, top: 10 + i * 39, lineHeight: '30px', whiteSpace: 'nowrap' }}>{it.name}</span>
        </React.Fragment>
      ))}
    </div>
  );
}

function HistLegend() {
  return (
    <div style={{ ...legendBox, width: 318, height: 84 }}>
      {histLegend.map((it, i) => (
        <React.Fragment key={it.name}>
          <span style={{ position: 'absolute', left: 11, top: 10 + i * 39, width: 54, height: 20, boxSizing: 'border-box',
            border: `1.5px solid ${it.color}` }} />
          <span style={{ position: 'absolute', left: 86, top: 5 + i * 39, lineHeight: '30px', whiteSpace: 'nowrap' }}>{it.name}</span>
        </React.Fragment>
      ))}
    </div>
  );
}

function DecayScatter(props: {
  width: number; height: number; top: number; right: number; xAxisHeight: number;
  xMax: number; xTicks: number[]; xMinor: number[]; filter?: (p: { x: number }) => boolean;
  minorTickX: number; minorTickY: number;
  xLabelX: number; xLabelY: number; yLabelY: number; legend: React.ReactNode; legendStyle: React.CSSProperties;
}) {
  const f = props.filter ?? (() => true);
  return (
    <ScatterChart width={props.width} height={props.height}
      margin={{ top: props.top, right: props.right, bottom: 0, left: 0 }}>
      <XAxis type="number" dataKey="x" domain={[0, props.xMax]} ticks={props.xTicks}
        tickFormatter={(v: number) => v.toFixed(1)} tick={tickStyle} tickSize={6} tickMargin={8}
        height={props.xAxisHeight} allowDataOverflow stroke="#333" strokeWidth={1.3}>
        <Label content={() => (
          <text x={props.xLabelX} y={props.xLabelY} textAnchor="middle" style={textStyle}>OF Pulse Height (V)</text>
        )} />
      </XAxis>
      <YAxis type="number" dataKey="y" domain={[0, 50]} ticks={decayTicks} tick={tickStyle}
        tickSize={6} tickMargin={9} width={85} allowDataOverflow stroke="#333" strokeWidth={1.3}>
        <Label content={() => (
          <text x={0} y={0} transform={`translate(34 ${props.yLabelY}) rotate(-90)`} textAnchor="middle"
            style={textStyle}>Decay Time (ms)</text>
        )} />
      </YAxis>
      <CartesianGrid verticalValues={props.xMinor} horizontalValues={decayMinor} stroke={MINOR} strokeWidth={1}
        fill={BG} fillOpacity={1} />
      <CartesianGrid stroke={MAJOR} strokeWidth={1.5} strokeDasharray="11 4 2 4" />
      <Scatter name="Artifact" data={artifactAll.filter(f)} shape={dot(GRAY, 3, 0.32)} isAnimationActive={false} />
      <Scatter name="Ring Event" data={ringAll.filter(f)} shape={dot(RED, 3, 0.92)} isAnimationActive={false} />
      <Scatter name="Absorber Event" data={absorberAll.filter(f)} shape={dot(BLUE, 3, 0.95)}
        isAnimationActive={false} />
      <ReferenceArea x1={0} x2={props.xMax} y1={0} y2={50} fill="none" stroke="#333" strokeWidth={1.4}
        ifOverflow="visible" />
      {props.xMinor.map((v) => (
        <ReferenceLine key={`mx${v}`} segment={[{ x: v, y: 0 }, { x: v, y: -props.minorTickY }]} stroke="#333"
          strokeWidth={1} ifOverflow="visible" />
      ))}
      {decayMinor.map((v) => (
        <ReferenceLine key={`my${v}`} segment={[{ x: 0, y: v }, { x: -props.minorTickX, y: v }]} stroke="#333"
          strokeWidth={1} ifOverflow="visible" />
      ))}
      <Legend verticalAlign="middle" align="center" layout="horizontal" wrapperStyle={props.legendStyle}
        content={() => props.legend} />
    </ScatterChart>
  );
}

function EnergyHistogram() {
  return (
    <ComposedChart width={561} height={565} data={histTable} margin={{ top: 36, right: 9, bottom: 0, left: 0 }}>
      <XAxis type="number" dataKey="x" domain={[-0.05, 1.05]} ticks={histXTicks} allowDataOverflow
        tickFormatter={(v: number) => v.toFixed(2)} tick={tickStyle} tickSize={6} tickMargin={9} height={72}
        stroke="#333" strokeWidth={1.3}>
        <Label content={() => (
          <text x={325} y={556} textAnchor="middle" style={textStyle}>
            Recoil Energy Carrier TES (keV<tspan fontSize={17} dy={6}>ae</tspan><tspan dy={-6}>)</tspan>
          </text>
        )} />
      </XAxis>
      <YAxis type="number" domain={[0, 15.75]} ticks={histYTicks} allowDataOverflow tick={tickStyle} tickSize={6}
        tickMargin={7} width={97} stroke="#333" strokeWidth={1.3}>
        <Label content={() => (
          <text x={0} y={0} transform="translate(45 264) rotate(-90)" textAnchor="middle" style={textStyle}>Counts</text>
        )} />
      </YAxis>
      <Area type="stepAfter" dataKey="ringTrue" stroke="none" fill="#f08c78" fillOpacity={0.45}
        isAnimationActive={false} />
      <Area type="stepAfter" dataKey="absorberTrue" stroke="none" fill="#7f97d8" fillOpacity={0.4}
        isAnimationActive={false} />
      <Line type="stepAfter" dataKey="absorber" stroke={HIST_BLUE} strokeWidth={1.6} dot={false}
        isAnimationActive={false} />
      <Line type="stepAfter" dataKey="ring" stroke={HIST_RED} strokeWidth={1.6} dot={false}
        isAnimationActive={false} />
      <ReferenceArea x1={-0.05} x2={1.05} y1={0} y2={15.75} fill="none" stroke="#333" strokeWidth={1.4}
        ifOverflow="visible" />
      <Legend verticalAlign="middle" align="center" layout="horizontal"
        wrapperStyle={{ top: 50, left: 222, width: 318, height: 84 }} content={() => <HistLegend />} />
    </ComposedChart>
  );
}

export default function App() {
  return (
    <div style={{ position: 'absolute', left: 0, top: 0, width: 1141, height: 1105, background: '#fff' }}>
      <div style={{ position: 'absolute', left: 0, top: 0 }}>
        <DecayScatter width={1141} height={490} top={57} right={22} xAxisHeight={81} xMax={3.5}
          xTicks={topXTicks} xMinor={topXMinor} minorTickX={0.012} minorTickY={0.5}
          xLabelX={602} xLabelY={474} yLabelY={233}
          legend={<TopLegend />} legendStyle={{ top: 5, left: 85, width: 1035, height: 45 }} />
      </div>
      <div style={{ position: 'absolute', left: 0, top: 540 }}>
        <DecayScatter width={560} height={565} top={45} right={39} xAxisHeight={70} xMax={0.4}
          xTicks={zoomXTicks} xMinor={zoomXMinor} filter={inZoom} minorTickX={0.0032} minorTickY={0.39}
          xLabelX={303} xLabelY={556} yLabelY={270}
          legend={<ZoomLegend />} legendStyle={{ top: 58, left: 247, width: 263, height: 122 }} />
      </div>
      <div style={{ position: 'absolute', left: 580, top: 540 }}>
        <EnergyHistogram />
      </div>
    </div>
  );
}
